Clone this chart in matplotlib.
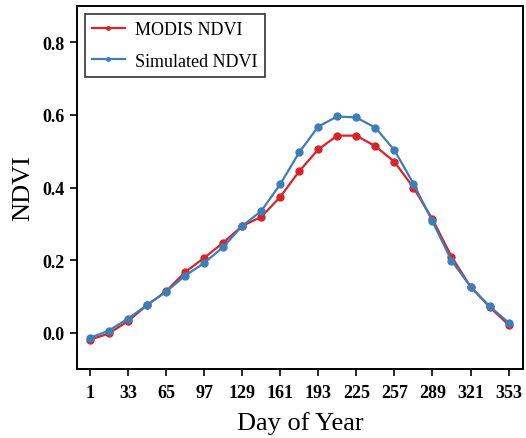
import matplotlib.pyplot as plt

# Day of year (16-day composites)
days = [1, 17, 33, 49, 65, 81, 97, 113, 129, 145, 161, 177, 193, 209, 225,
        241, 257, 273, 289, 305, 321, 337, 353]

modis_ndvi = [-0.019, -0.002, 0.032, 0.076, 0.114, 0.167, 0.206, 0.248, 0.294,
              0.319, 0.374, 0.445, 0.505, 0.543, 0.543, 0.514, 0.471, 0.400,
              0.313, 0.210, 0.127, 0.071, 0.022]

sim_ndvi = [-0.014, 0.006, 0.039, 0.076, 0.113, 0.157, 0.192, 0.236, 0.294,
            0.335, 0.409, 0.497, 0.568, 0.596, 0.593, 0.565, 0.503, 0.411,
            0.307, 0.199, 0.127, 0.073, 0.028]

xticks = [1, 33, 65, 97, 129, 161, 193, 225, 257, 289, 321, 353]
yticks = [0.0, 0.2, 0.4, 0.6, 0.8]

RED = "#d9232a"
BLUE = "#3c7fb8"

plt.rcParams["font.family"] = ["Liberation Serif", "DejaVu Serif"]

fig = plt.figure(figsize=(5.26, 4.39), dpi=100)
ax = fig.add_axes([0.146, 0.157, 0.848, 0.827])

ax.plot(days, modis_ndvi, color=RED, marker="o", markersize=5,
        linewidth=1.6, label="MODIS NDVI")
ax.plot(days, sim_ndvi, color=BLUE, marker="o", markersize=5,
        linewidth=1.6, label="Simulated NDVI")

ax.set_xlim(-10, 365)
ax.set_ylim(-0.1, 0.9)
ax.set_xticks(xticks)
ax.set_yticks(yticks)
ax.set_yticklabels([f"{v:.1f}" for v in yticks])

for lab in ax.get_xticklabels() + ax.get_yticklabels():
    lab.set_fontweight("bold")
    lab.set_fontsize(13)

ax.tick_params(direction="out", length=5, width=1.2, top=False, right=False)
ax.tick_params(axis="x", pad=6)
for sp in ax.spines.values():
    sp.set_linewidth(1.4)

ax.set_xlabel("Day of Year", fontsize=19, labelpad=7)
ax.set_ylabel("NDVI", fontsize=19, labelpad=6)

leg = ax.legend(loc="upper left", fontsize=13, frameon=True, fancybox=False,
                edgecolor="black", markerscale=0.5, handlelength=1.8,
                handletextpad=0.6, borderaxespad=0.45, borderpad=0.4,
                labelspacing=0.8)
leg.get_frame().set_linewidth(1.2)

fig.savefig("out.png", dpi=100)
